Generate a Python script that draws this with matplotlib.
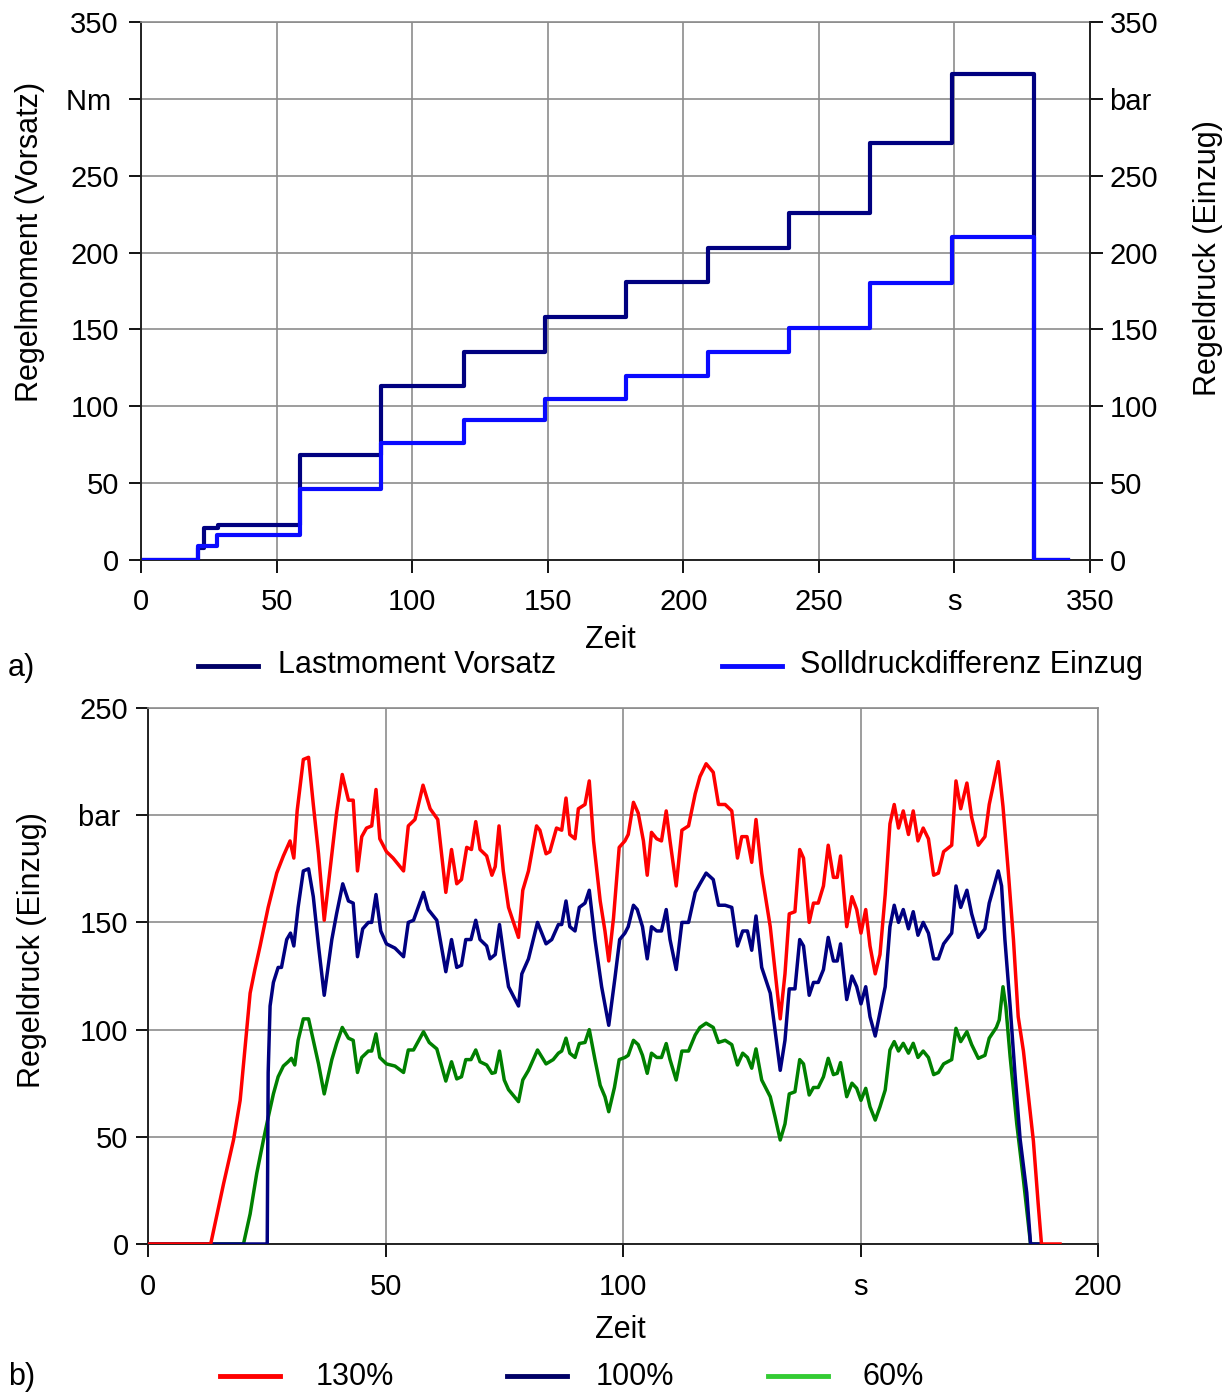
import numpy as np
import matplotlib
matplotlib.use("Agg")
import matplotlib.pyplot as plt
from matplotlib.lines import Line2D

plt.rcParams['font.family'] = ['Liberation Sans', 'DejaVu Sans']
FS = 21      # tick labels
FL = 22      # axis titles and legends

# --- a) Lastmoment / Solldruckdifferenz (Stufenversuch) ---
lm_t = [1.0, 21.0, 23.4, 28.3, 58.6, 88.6, 119.0, 149.0, 179.0, 209.0, 239.0, 269.0, 299.0, 329.2, 342.0]
lm_v = [0, 8, 21, 23, 68, 113, 135, 158, 181, 203, 226, 271, 316, 0, 0]

sd_t = [1.0, 21.0, 28.0, 58.8, 88.6, 119.0, 149.0, 179.0, 209.0, 239.0, 269.0, 299.0, 329.5, 342.0]
sd_v = [0, 9, 16, 46, 76, 91, 105, 120, 135, 151, 180, 210, 0, 0]

# --- b) Regeldruck bei 130 %, 100 %, 60 % ---
red_pts = [(0, 0), (13.2, 0), (15.9, 28), (18.0, 48.5), (19.4, 67), (20.8, 100), (21.5, 117), (22.5, 128),
           (23.6, 139), (25.3, 157), (27.1, 173), (28.5, 181), (29.9, 188), (30.7, 180), (31.4, 202),
           (32.7, 226), (33.8, 227), (34.8, 205), (35.9, 182), (37.1, 151), (38.7, 182), (39.7, 201),
           (40.9, 219), (42.2, 207), (43.2, 207), (44.1, 174), (45.0, 190), (46.0, 194), (47.1, 195),
           (48.0, 212), (48.8, 189), (50.2, 183), (51.6, 180), (53.8, 174), (54.8, 195), (56.2, 198),
           (57.9, 214), (59.4, 203), (61.0, 198), (62.7, 164), (63.9, 184), (65.0, 168), (66.0, 170),
           (67.1, 185), (68.1, 184), (69.0, 197), (69.9, 184), (71.3, 181), (72.4, 172), (73.1, 176),
           (73.9, 195), (74.8, 174), (75.9, 157), (78.0, 143), (78.9, 165), (80.1, 174), (81.8, 195),
           (82.5, 193), (83.8, 182), (84.6, 183), (86.0, 194), (87.1, 193), (88.0, 208), (88.8, 191),
           (89.9, 189), (90.6, 203), (92.0, 205), (92.9, 216), (93.8, 188), (95.2, 160), (96.2, 146),
           (97.0, 132), (98.0, 152), (99.2, 185), (100.4, 188), (101.1, 191), (102.2, 206), (103.2, 201),
           (104.3, 188), (105.1, 172), (106.0, 192), (107.1, 189), (108.1, 188), (109.1, 202), (109.9, 188),
           (111.2, 167), (112.4, 193), (113.8, 195), (115.2, 210), (116.2, 218), (117.5, 224), (119.0, 220),
           (120.1, 205), (121.5, 205), (122.9, 202), (124.1, 180), (125.0, 190), (126.1, 190), (127.1, 178),
           (128.0, 198), (129.2, 173), (131.0, 148), (133.1, 105), (134.1, 126), (135.0, 154), (136.2, 155),
           (137.2, 184), (138.0, 180), (139.2, 150), (140.1, 159), (141.1, 159), (142.2, 167), (143.2, 186),
           (144.3, 171), (145.1, 171), (145.8, 181), (147.1, 148), (148.2, 162), (149.2, 156), (150.1, 145),
           (151.1, 156), (152.0, 139), (153.1, 126), (154.1, 135), (155.2, 163), (156.2, 196), (157.1, 205),
           (158.0, 194), (159.0, 202), (160.1, 191), (161.1, 202), (162.1, 188), (163.2, 194), (164.3, 189),
           (165.4, 172), (166.4, 173), (167.5, 183), (169.2, 186), (170.1, 216), (171.1, 203), (172.4, 215),
           (173.4, 199), (174.8, 186), (176.2, 190), (177.1, 205), (179.0, 225), (180.0, 204), (181.1, 174),
           (182.2, 142), (183.2, 106), (184.3, 90), (186.4, 48), (187.4, 19), (188.1, 0), (192.0, 0)]

navy_pts = [(0, 0), (25.1, 0), (25.3, 80), (25.7, 111), (26.4, 122), (27.4, 129), (28.1, 129), (29.2, 142),
            (30.0, 145), (30.7, 139), (31.6, 157), (32.7, 174), (33.8, 175), (34.8, 162), (35.9, 139),
            (37.1, 116), (38.7, 142), (39.7, 154), (41.0, 168), (42.2, 160), (43.2, 159), (44.1, 134),
            (45.2, 147), (46.4, 150), (47.1, 150), (48.0, 163), (49.0, 146), (50.2, 140), (52.0, 138),
            (53.8, 134), (54.8, 150), (55.9, 151), (58.0, 164), (59.0, 156), (60.8, 151), (62.7, 127),
            (63.9, 142), (65.0, 129), (66.0, 130), (66.9, 142), (68.0, 142), (69.0, 151), (69.9, 142),
            (71.3, 139), (72.0, 133), (73.1, 135), (74.0, 149), (75.0, 133), (75.9, 120), (78.0, 111),
            (78.7, 126), (80.1, 133), (82.0, 150), (83.8, 140), (85.0, 142), (86.4, 149), (87.1, 149),
            (88.0, 160), (88.8, 148), (89.9, 146), (90.8, 157), (92.0, 159), (92.9, 165), (94.1, 142),
            (95.5, 120), (97.0, 102), (98.3, 124), (99.3, 142), (100.4, 145), (101.1, 148), (102.2, 158),
            (103.0, 156), (104.1, 148), (105.1, 133), (106.0, 148), (107.1, 146), (108.1, 146), (109.1, 156),
            (109.9, 142), (111.2, 128), (112.4, 150), (113.8, 150), (115.2, 164), (116.2, 168), (117.5, 173),
            (119.0, 170), (120.1, 158), (121.5, 158), (122.9, 157), (124.1, 139), (125.2, 146), (126.2, 146),
            (127.1, 137), (128.0, 153), (129.2, 129), (131.0, 117), (133.1, 81), (134.1, 95), (135.0, 119),
            (136.2, 119), (137.2, 142), (138.0, 139), (139.2, 116), (140.1, 122), (141.1, 122), (142.2, 128),
            (143.2, 143), (144.3, 132), (145.1, 132), (145.8, 140), (147.1, 114), (148.2, 125), (149.2, 120),
            (150.1, 112), (151.1, 120), (152.0, 106), (153.1, 97), (154.1, 108), (155.2, 120), (156.2, 148),
            (157.1, 158), (158.0, 150), (159.0, 156), (160.1, 147), (161.1, 155), (162.1, 144), (163.2, 150),
            (164.3, 145), (165.4, 133), (166.4, 133), (167.5, 140), (169.2, 145), (170.1, 167), (171.1, 157),
            (172.4, 165), (173.4, 154), (174.8, 143), (176.2, 147), (177.1, 159), (179.0, 174), (179.7, 167),
            (180.4, 142), (181.5, 111), (182.5, 80), (183.6, 49), (185.0, 24), (185.8, 0), (188.0, 0)]

green_pts = [(0, 0), (20.1, 0), (21.5, 14), (22.9, 33), (24.3, 48.5), (25.3, 59), (26.4, 70), (27.4, 78),
             (28.5, 83), (29.5, 85), (30.2, 86.6), (30.9, 83.5), (31.6, 95), (32.7, 105), (33.8, 105),
             (34.8, 95), (35.9, 84), (37.1, 70), (38.7, 86), (39.7, 93.5), (40.9, 101), (42.2, 96), (43.2, 95),
             (44.1, 80), (45.0, 87), (46.4, 90), (47.1, 90), (48.0, 98), (48.8, 87), (50.2, 84), (52.0, 83),
             (53.8, 80), (54.8, 90.5), (55.9, 90.5), (58.0, 99), (59.2, 94), (60.8, 91), (62.7, 76), (63.9, 85),
             (65.0, 77), (66.0, 78), (66.9, 86), (68.0, 86), (69.0, 90.5), (69.9, 85), (71.3, 83.5), (72.4, 79.6),
             (73.1, 80), (74.0, 90), (75.0, 76.5), (75.9, 72), (78.0, 66.4), (78.9, 76.5), (80.1, 81), (82.0, 90.5),
             (83.8, 84), (85.3, 86), (86.4, 89), (87.1, 90), (88.0, 96), (88.8, 89), (89.9, 87), (90.8, 93.5),
             (92.0, 94), (92.9, 100), (94.1, 86), (95.2, 74), (96.2, 68.7), (97.0, 61.7), (98.2, 73), (99.2, 86),
             (100.4, 87), (101.1, 88), (102.2, 95), (103.2, 93), (104.1, 88), (105.1, 79.6), (106.0, 89),
             (107.1, 87), (108.1, 87), (109.1, 93.5), (109.9, 86), (111.2, 76.5), (112.4, 90), (113.8, 90),
             (115.2, 97.5), (116.2, 101), (117.5, 103), (119.0, 101), (120.1, 94), (121.5, 95), (122.9, 93),
             (124.1, 83.5), (125.2, 89), (126.2, 87), (127.1, 82), (128.0, 91), (129.2, 76.5), (131.0, 68.7),
             (132.0, 59.4), (133.1, 48.5), (134.1, 56), (135.0, 70), (136.2, 71), (137.2, 86), (138.0, 84),
             (139.2, 69.5), (140.1, 73), (141.1, 73), (142.2, 78), (143.2, 86.6), (144.3, 79), (145.1, 79.6),
             (145.8, 84.6), (147.1, 68.7), (148.2, 75), (149.2, 72.6), (150.1, 67), (151.1, 72.6), (152.0, 64),
             (153.1, 57.8), (154.1, 64), (155.2, 71.8), (156.2, 90.5), (157.1, 94.4), (158.0, 90), (159.0, 93.6),
             (160.1, 89), (161.1, 93.6), (162.1, 87), (163.2, 90), (164.3, 87), (165.4, 79), (166.4, 80),
             (167.5, 84), (169.2, 86), (170.1, 100.6), (171.1, 94.4), (172.4, 99), (173.4, 93), (174.8, 86.6),
             (176.2, 88), (177.1, 96), (178.6, 101), (179.2, 104.5), (180.0, 120), (180.6, 110.7), (181.5, 87.4),
             (182.9, 56), (184.3, 30), (185.8, 0), (188.0, 0)]

W, H = 1231, 1392


def fx(px):
    return px / W


def fy(py):
    return 1 - py / H


def style_axis(ax, grid_color='#8c8c8c'):
    ax.grid(True, color=grid_color, lw=1.2)
    ax.set_axisbelow(True)
    ax.tick_params(direction='out', length=9, width=1.3, labelsize=FS, pad=7)
    for s in ['left', 'bottom']:
        ax.spines[s].set_linewidth(1.4)
        ax.spines[s].set_color('#222222')
    for s in ['top', 'right']:
        ax.spines[s].set_linewidth(1.2)
        ax.spines[s].set_color(grid_color)


fig = plt.figure(figsize=(W / 100, H / 100), dpi=100)

# ---------------- panel a ----------------
ax1 = fig.add_axes([fx(141), fy(560), fx(1090) - fx(141), fy(22) - fy(560)])
style_axis(ax1)
ax1.step(lm_t, lm_v, where='post', color='#000080', lw=3.0, zorder=3)
ax1.step(sd_t, sd_v, where='post', color='#0a0aff', lw=3.0, zorder=4)
ax1.set_xlim(0, 350)
ax1.set_ylim(0, 350)
xt = np.arange(0, 351, 50)
ax1.set_xticks(xt)
ax1.set_xticklabels(['s' if v == 300 else str(v) for v in xt])
ax1.set_yticks(xt)
ax1.set_yticklabels(['Nm ' if v == 300 else str(v) for v in xt])
ax1.tick_params(axis='x', pad=11)

ax1r = ax1.twinx()
ax1r.set_ylim(0, 350)
ax1r.set_yticks(xt)
ax1r.set_yticklabels(['bar' if v == 300 else str(v) for v in xt])
ax1r.tick_params(direction='out', length=9, width=1.3, labelsize=FS, pad=5)
ax1r.spines['right'].set_color('#222222')
ax1r.spines['right'].set_linewidth(1.4)
ax1r.spines['top'].set_visible(False)
ax1r.spines['left'].set_visible(False)
ax1r.spines['bottom'].set_visible(False)

fig.text(fx(30), fy(242), 'Regelmoment (Vorsatz)', rotation=90, ha='center', va='center', fontsize=FL)
fig.text(fx(1208), fy(258), 'Regeldruck (Einzug)', rotation=90, ha='center', va='center', fontsize=FL)
fig.text(fx(610), fy(640), 'Zeit', ha='center', va='center', fontsize=FL)
fig.text(fx(8), fy(668), 'a)', ha='left', va='center', fontsize=FL)

# legend a
fig.add_artist(Line2D([fx(198), fx(258)], [fy(666), fy(666)], color='#000066', lw=3.5))
fig.text(fx(278), fy(665), 'Lastmoment Vorsatz', ha='left', va='center', fontsize=FL)
fig.add_artist(Line2D([fx(722), fx(782)], [fy(666), fy(666)], color='#0a0aff', lw=3.5))
fig.text(fx(800), fy(665), 'Solldruckdifferenz Einzug', ha='left', va='center', fontsize=FL)

# ---------------- panel b ----------------
ax2 = fig.add_axes([fx(148), fy(1244), fx(1098) - fx(148), fy(708) - fy(1244)])
style_axis(ax2)
green_t, green_v = np.array(green_pts).T
navy_t, navy_v = np.array(navy_pts).T
red_t, red_v = np.array(red_pts).T
ax2.plot(green_t, green_v, color='#008000', lw=2.5, zorder=3)
ax2.plot(navy_t, navy_v, color='#000080', lw=2.5, zorder=4)
ax2.plot(red_t, red_v, color='#ff0000', lw=2.5, zorder=5)
ax2.set_xlim(0, 200)
ax2.set_ylim(0, 250)
bx = np.arange(0, 201, 50)
ax2.set_xticks(bx)
ax2.set_xticklabels(['s' if v == 150 else str(v) for v in bx])
by = np.arange(0, 251, 50)
ax2.set_yticks(by)
ax2.set_yticklabels(['bar ' if v == 200 else str(v) for v in by])
ax2.tick_params(axis='x', pad=12)
ax2.tick_params(axis='y', pad=5)

fig.text(fx(32), fy(950), 'Regeldruck (Einzug)', rotation=90, ha='center', va='center', fontsize=FL)
fig.text(fx(620), fy(1330), 'Zeit', ha='center', va='center', fontsize=FL)
fig.text(fx(8), fy(1377), 'b)', ha='left', va='center', fontsize=FL)

# legend b
for x0, col, lab, tx in [(220, '#ff0000', '130%', 316), (507, '#000066', '100%', 596), (768, '#33cc33', '60%', 862)]:
    fig.add_artist(Line2D([fx(x0), fx(x0 + 60)], [fy(1376), fy(1376)], color=col, lw=3.5))
    fig.text(fx(tx), fy(1377), lab, ha='left', va='center', fontsize=FL)

fig.savefig('out.png', dpi=100)
